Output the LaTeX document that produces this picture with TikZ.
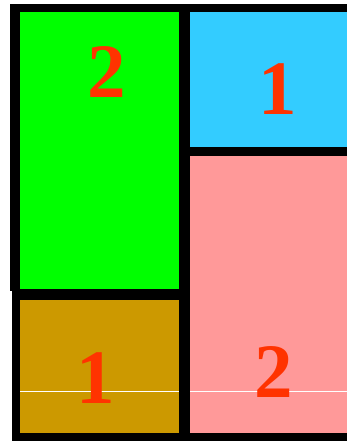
\documentclass[tikz,border=0pt]{standalone}
\usepackage{fontspec}
\setmainfont{Liberation Serif}
\usepackage{xcolor}
\definecolor{pgreen}{HTML}{00FF00}
\definecolor{pcyan}{HTML}{33CCFF}
\definecolor{pgold}{HTML}{CC9900}
\definecolor{ppink}{HTML}{FF9999}
\definecolor{pred}{HTML}{FF3300}
\usepackage{tikz}

\begin{document}
\begin{tikzpicture}[
  x=1pt, y=-1pt,
  num/.style={text=pred, font=\fontsize{77}{80}\selectfont\bfseries,
    inner sep=0pt, anchor=center},
  seam/.style={draw=white, line width=1pt}
]
  \useasboundingbox (0,0) rectangle (347,441);

  % black frame
  \fill[black] (10,4) rectangle (347,291);
  \fill[black] (12,289) rectangle (347,441);

  % cells
  \fill[pgreen] (20,12) rectangle (179,289);
  \fill[pcyan]  (190,12) rectangle (347,147);
  \fill[pgold]  (20,300) rectangle (179,433);
  \fill[ppink]  (190,156) rectangle (347,433);

  % thin light seam
  \draw[seam] (20,391) -- (179,391);
  \draw[seam] (190,391) -- (347,391);

  \node[num] (gtwo) at (107,72) {2};
  \node[num] (cone) at (278,89) {1};
  \node[num] (yone) at (96,378) {1};
  \node[num] (ptwo) at (274,372) {2};
\end{tikzpicture}
\end{document}
